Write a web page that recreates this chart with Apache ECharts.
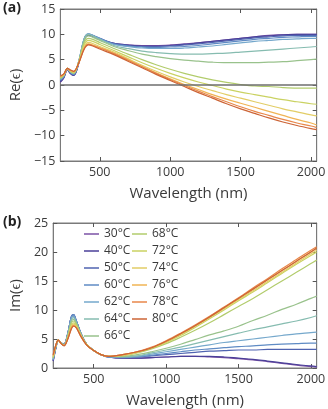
<!DOCTYPE html>
<html>
<head>
<meta charset="utf-8">
<script src="https://cdn.jsdelivr.net/npm/echarts@6/dist/echarts.min.js"></script>
<style>
  html, body { margin: 0; padding: 0; background: #fff; }
  #chart { width: 328px; height: 409px; }
</style>
</head>
<body>
<div id="chart"></div>
<script>
// temperatures (legend names)
const temps = ['30°C', '40°C', '50°C', '60°C', '62°C', '64°C', '66°C',
  '68°C', '72°C', '74°C', '76°C', '78°C', '80°C']

const xTicks = [500, 1000, 1500, 2000]

// panel (a) Re(eps)
const waveRe = [220, 245, 270, 290, 315, 350, 390, 420, 450, 500,
  600, 700, 800, 900, 1000, 1100, 1200, 1300, 1400, 1500, 1600, 1700, 1800, 1900, 2000, 2040]
const re30 = [0.5, 1.4, 3.0, 2.3, 1.9, 4.2, 8.9, 9.8, 9.6, 9.0,
  8.2, 7.9, 7.8, 7.8, 7.9, 8.1, 8.3, 8.6, 8.9, 9.2, 9.5, 9.8, 9.9, 10.0, 10.0, 10.0]
const re40 = [0.6, 1.5, 3.1, 2.3, 1.9, 4.3, 9.0, 9.9, 9.7, 9.1,
  8.2, 7.9, 7.7, 7.7, 7.8, 8.0, 8.3, 8.6, 8.9, 9.2, 9.5, 9.7, 9.9, 10.0, 10.0, 10.0]
const re50 = [0.8, 1.6, 3.2, 2.4, 2.0, 4.4, 9.1, 10.0, 9.8, 9.2,
  8.2, 7.8, 7.6, 7.6, 7.7, 7.9, 8.1, 8.4, 8.7, 9.0, 9.3, 9.5, 9.7, 9.8, 9.8, 9.8]
const re60 = [1.0, 1.7, 3.3, 2.5, 2.1, 4.6, 9.2, 10.1, 9.8, 9.2,
  8.1, 7.7, 7.5, 7.4, 7.5, 7.6, 7.8, 8.1, 8.4, 8.7, 9.0, 9.2, 9.4, 9.5, 9.6, 9.6]
const re62 = [1.1, 1.8, 3.3, 2.6, 2.2, 4.6, 9.2, 10.1, 9.8, 9.1,
  8.0, 7.6, 7.3, 7.2, 7.2, 7.3, 7.5, 7.7, 8.0, 8.3, 8.6, 8.8, 9.0, 9.1, 9.2, 9.2]
const re64 = [1.2, 1.9, 3.3, 2.6, 2.3, 4.6, 9.1, 10.0, 9.7, 9.0,
  7.8, 7.2, 6.7, 6.4, 6.2, 6.1, 6.1, 6.2, 6.3, 6.5, 6.7, 6.9, 7.1, 7.3, 7.5, 7.6]
const re66 = [1.3, 1.9, 3.3, 2.7, 2.3, 4.5, 8.8, 9.7, 9.4, 8.8,
  7.6, 6.8, 6.1, 5.6, 5.2, 4.9, 4.7, 4.5, 4.4, 4.4, 4.4, 4.5, 4.6, 4.8, 5.0, 5.1]
const re68 = [1.4, 2.0, 3.3, 2.7, 2.4, 4.5, 8.4, 9.2, 9.0, 8.4,
  7.2, 6.1, 5.0, 4.0, 3.1, 2.3, 1.6, 1.0, 0.5, 0.1, -0.2, -0.3, -0.5, -0.6, -0.6, -0.6]
const re72 = [1.5, 2.0, 3.3, 2.8, 2.5, 4.4, 8.0, 8.8, 8.6, 8.0,
  6.8, 5.6, 4.4, 3.3, 2.3, 1.4, 0.6, -0.1, -0.8, -1.4, -1.9, -2.4, -2.9, -3.3, -3.7, -3.8]
const re74 = [1.6, 2.1, 3.3, 2.8, 2.6, 4.4, 7.6, 8.4, 8.2, 7.6,
  6.5, 5.2, 3.9, 2.7, 1.6, 0.6, -0.3, -1.1, -1.9, -2.6, -3.3, -4.0, -4.7, -5.3, -5.9, -6.1]
const re76 = [1.7, 2.1, 3.3, 2.9, 2.6, 4.3, 7.3, 8.1, 7.9, 7.4,
  6.3, 5.0, 3.7, 2.4, 1.2, 0.1, -0.9, -1.9, -2.8, -3.6, -4.4, -5.2, -6.0, -6.8, -7.5, -7.9]
const re78 = [1.7, 2.2, 3.3, 2.9, 2.7, 4.3, 7.2, 8.0, 7.8, 7.3,
  6.2, 4.9, 3.6, 2.3, 1.1, -0.1, -1.2, -2.3, -3.3, -4.3, -5.2, -6.0, -6.8, -7.5, -8.1, -8.4]
const re80 = [1.8, 2.2, 3.3, 3.0, 2.7, 4.3, 7.1, 7.9, 7.7, 7.1,
  6.0, 4.7, 3.4, 2.1, 0.9, -0.3, -1.5, -2.6, -3.7, -4.7, -5.6, -6.5, -7.3, -8.0, -8.6, -8.8]

// panel (b) Im(eps)
const waveIm = [220, 240, 255, 275, 295, 320, 345, 360, 380, 410, 450, 500, 550,
  600, 700, 800, 900, 1000, 1100, 1200, 1300, 1400, 1500, 1600, 1700, 1800, 1900, 2000, 2040]
const im30 = [1.2, 3.6, 4.8, 4.3, 4.1, 5.8, 8.6, 9.0, 8.0, 6.0, 4.1, 3.0, 2.3,
  1.9, 1.7, 1.7, 1.8, 1.9, 2.0, 2.0, 1.9, 1.8, 1.6, 1.4, 1.1, 0.8, 0.5, 0.25, 0.15]
const im40 = [1.2, 3.6, 4.8, 4.3, 4.1, 5.9, 8.8, 9.2, 8.1, 6.1, 4.1, 3.0, 2.3,
  1.9, 1.7, 1.7, 1.8, 1.9, 2.0, 2.0, 2.0, 1.9, 1.7, 1.5, 1.2, 0.9, 0.6, 0.35, 0.25]
const im50 = [1.3, 3.7, 4.8, 4.3, 4.1, 5.9, 8.8, 9.2, 8.1, 6.1, 4.1, 3.0, 2.3,
  1.9, 1.8, 1.9, 2.1, 2.3, 2.5, 2.7, 2.9, 3.0, 3.1, 3.1, 3.2, 3.2, 3.2, 3.2, 3.2]
const im60 = [1.4, 3.7, 4.8, 4.3, 4.1, 5.9, 8.8, 9.2, 8.1, 6.1, 4.1, 3.0, 2.3,
  1.9, 1.8, 1.9, 2.2, 2.5, 2.8, 3.1, 3.3, 3.5, 3.7, 3.8, 4.0, 4.1, 4.2, 4.3, 4.3]
const im62 = [1.5, 3.8, 4.8, 4.3, 4.1, 5.8, 8.6, 9.0, 8.0, 6.0, 4.1, 3.0, 2.3,
  1.9, 1.9, 2.0, 2.4, 2.8, 3.2, 3.6, 4.0, 4.4, 4.7, 5.0, 5.3, 5.6, 5.9, 6.1, 6.2]
const im64 = [1.6, 3.8, 4.8, 4.3, 4.0, 5.7, 8.3, 8.7, 7.8, 5.9, 4.1, 3.0, 2.3,
  2.0, 1.9, 2.1, 2.6, 3.1, 3.6, 4.2, 4.8, 5.4, 6.0, 6.6, 7.1, 7.6, 8.1, 8.7, 9.0]
const im66 = [1.7, 3.9, 4.8, 4.3, 4.0, 5.5, 8.0, 8.4, 7.7, 5.9, 4.1, 3.0, 2.3,
  2.0, 2.0, 2.3, 2.8, 3.4, 4.1, 4.9, 5.7, 6.4, 7.2, 8.2, 9.1, 10.1, 11.0, 12.0, 12.4]
const im68 = [1.8, 3.9, 4.8, 4.2, 4.0, 5.4, 7.7, 8.1, 7.5, 5.8, 4.1, 3.0, 2.3,
  2.0, 2.1, 2.6, 3.3, 4.2, 5.3, 6.5, 7.8, 9.2, 10.6, 12.0, 13.5, 15.0, 16.5, 18.0, 18.6]
const im72 = [1.9, 4.0, 4.8, 4.2, 3.9, 5.2, 7.4, 7.8, 7.3, 5.7, 4.1, 3.0, 2.3,
  2.0, 2.2, 2.7, 3.4, 4.4, 5.6, 7.0, 8.5, 10.0, 11.6, 13.1, 14.7, 16.3, 17.9, 19.4, 20.0]
const im74 = [2.0, 4.0, 4.8, 4.2, 3.9, 5.1, 7.1, 7.6, 7.1, 5.6, 4.0, 3.0, 2.3,
  2.0, 2.2, 2.7, 3.5, 4.5, 5.8, 7.2, 8.7, 10.2, 11.8, 13.3, 14.9, 16.5, 18.1, 19.7, 20.3]
const im76 = [2.1, 4.1, 4.8, 4.2, 3.9, 5.0, 6.9, 7.4, 7.0, 5.6, 4.0, 3.0, 2.3,
  2.0, 2.3, 2.8, 3.5, 4.6, 5.9, 7.3, 8.8, 10.4, 12.0, 13.6, 15.2, 16.8, 18.4, 20.0, 20.6]
const im78 = [2.2, 4.1, 4.8, 4.2, 3.9, 5.0, 6.8, 7.3, 6.9, 5.5, 4.0, 3.0, 2.3,
  2.0, 2.3, 2.8, 3.6, 4.7, 6.0, 7.4, 8.9, 10.5, 12.1, 13.8, 15.4, 17.1, 18.7, 20.3, 20.9]
const im80 = [2.3, 4.1, 4.8, 4.2, 3.8, 4.9, 6.7, 7.2, 6.9, 5.5, 4.0, 3.0, 2.3,
  2.0, 2.3, 2.8, 3.5, 4.6, 5.9, 7.3, 8.8, 10.4, 12.0, 13.6, 15.2, 16.8, 18.4, 20.0, 20.7]

const reRows = [re30, re40, re50, re60, re62, re64, re66, re68, re72, re74, re76, re78, re80]
const imRows = [im30, im40, im50, im60, im62, im64, im66, im68, im72, im74, im76, im78, im80]

const colors = ['#7b52a6', '#4a3f98', '#4f63b0', '#5f8bc4', '#75a8cc', '#86bcb0', '#99c28c',
  '#b2cc6c', '#cad262', '#e2cd66', '#f0b455', '#e8874a', '#cc6436']

const FONT = 'Open Sans'
const AXIS_COLOR = '#7a7a7a'
const TEXT_COLOR = '#3a3a3a'

const chart = echarts.init(document.getElementById('chart'))

// plain numbers, real minus sign
function tickText (v) {
  return String(v).replace('-', '\u2212')
}

function xAxes (gridIndex) {
  let base = {
    gridIndex: gridIndex,
    type: 'value',
    min: 220,
    max: 2040,
    axisLine: { show: true, onZero: false, lineStyle: { color: AXIS_COLOR, width: 1 } },
    splitLine: { show: false },
    axisTick: { show: true, inside: true, length: 4, customValues: xTicks, lineStyle: { color: '#555' } }
  }
  return [
    Object.assign({}, base, {
      position: 'bottom',
      name: 'Wavelength (nm)',
      nameLocation: 'middle',
      nameGap: 25,
      nameTextStyle: { fontFamily: FONT, fontSize: 15, color: TEXT_COLOR },
      axisLabel: { show: true, customValues: xTicks, margin: 5, fontFamily: FONT, fontSize: 12.5, color: TEXT_COLOR, formatter: tickText }
    }),
    Object.assign({}, base, {
      position: 'top',
      axisLabel: { show: false }
    })
  ]
}

function yAxes (gridIndex, min, max, name) {
  let base = {
    gridIndex: gridIndex,
    type: 'value',
    min: min,
    max: max,
    interval: 5,
    axisLine: { show: true, onZero: false, lineStyle: { color: AXIS_COLOR, width: 1 } },
    splitLine: { show: false },
    axisTick: { show: true, inside: true, length: 4, lineStyle: { color: '#555' } }
  }
  return [
    Object.assign({}, base, {
      position: 'left',
      name: name,
      nameLocation: 'middle',
      nameGap: 27,
      nameRotate: 90,
      nameTextStyle: { fontFamily: FONT, fontSize: 15, color: TEXT_COLOR },
      axisLabel: { margin: 5, fontFamily: FONT, fontSize: 12.5, color: TEXT_COLOR, formatter: tickText }
    }),
    Object.assign({}, base, {
      position: 'right',
      axisLabel: { show: false }
    })
  ]
}

let series = []
temps.forEach((t, k) => {
  series.push({
    name: t,
    type: 'line',
    xAxisIndex: 0,
    yAxisIndex: 0,
    data: waveRe.map((w, i) => [w, reRows[k][i]]),
    smooth: 0.35,
    showSymbol: false,
    lineStyle: { width: 1.2, color: colors[k] },
    itemStyle: { color: colors[k] },
    z: 3
  })
  series.push({
    name: t,
    type: 'line',
    xAxisIndex: 2,
    yAxisIndex: 2,
    data: waveIm.map((w, i) => [w, imRows[k][i]]),
    smooth: 0.35,
    showSymbol: false,
    lineStyle: { width: 1.2, color: colors[k] },
    itemStyle: { color: colors[k] },
    z: 3
  })
})

// zero line in panel (a)
series.push({
  type: 'line',
  xAxisIndex: 0,
  yAxisIndex: 0,
  data: [],
  silent: true,
  markLine: {
    silent: true,
    symbol: 'none',
    label: { show: false },
    lineStyle: { color: '#6e6e6e', width: 1.5, type: 'solid' },
    data: [{ yAxis: 0 }]
  },
  z: 2
})

let legendBase = {
  orient: 'vertical',
  icon: 'rect',
  itemWidth: 15,
  itemHeight: 1.5,
  itemGap: 3,
  padding: 0,
  textStyle: { fontFamily: FONT, fontSize: 12, color: TEXT_COLOR, lineHeight: 14 },
  selectedMode: false
}

let option = {
  animation: false,
  backgroundColor: '#fff',
  grid: [
    { left: 45, top: 9, width: 273, height: 152, show: true, borderColor: AXIS_COLOR, borderWidth: 1 },
    { left: 45, top: 223, width: 273, height: 151, show: true, borderColor: AXIS_COLOR, borderWidth: 1 }
  ],
  xAxis: xAxes(0).concat(xAxes(1)),
  yAxis: yAxes(0, -15, 15, 'Re(\u03f5)').concat(yAxes(1, 0, 25, 'Im(\u03f5)')),
  legend: [
    Object.assign({}, legendBase, { left: 84, top: 227, data: temps.slice(0, 7) }),
    Object.assign({}, legendBase, { left: 132, top: 227, data: temps.slice(7) })
  ],
  graphic: [
    { type: 'text', left: 3, top: 1, style: { text: '(a)', font: 'bold 14px "Open Sans"', fill: '#222' } },
    { type: 'text', left: 3, top: 215, style: { text: '(b)', font: 'bold 14px "Open Sans"', fill: '#222' } }
  ],
  series: series
}

chart.setOption(option)
</script>
</body>
</html>
